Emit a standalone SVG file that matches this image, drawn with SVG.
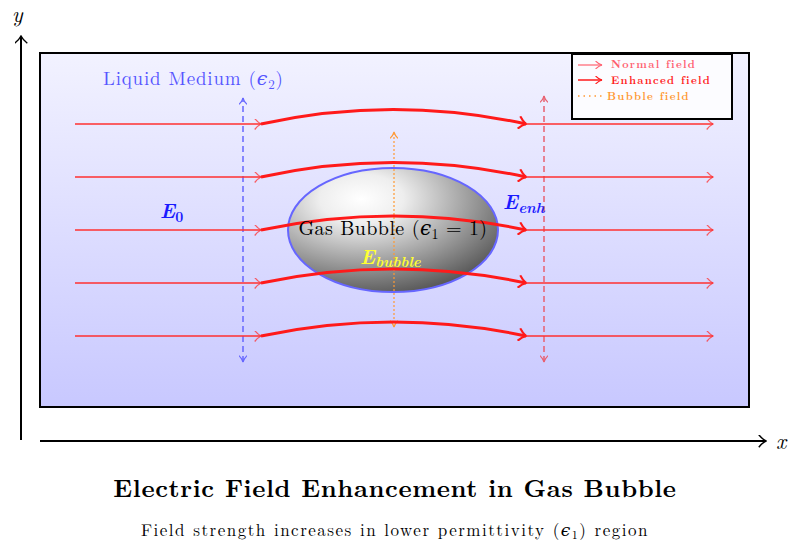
<svg xmlns="http://www.w3.org/2000/svg" width="799" height="553" viewBox="0 0 799 553">
<style>
.t{font-family:"Latin Modern Roman","DejaVu Serif","Liberation Serif",serif}
.f{stroke:#ff3030;stroke-opacity:.75;stroke-width:2;fill:none}
.e{stroke:#ff1a1a;stroke-width:3;fill:none}
</style>
<defs>
<linearGradient id="bg" x1="0" y1="0" x2="0" y2="1"><stop offset="0" stop-color="#f2f2ff"/><stop offset="1" stop-color="#c8c8ff"/></linearGradient>
<radialGradient id="bb" cx="0.35" cy="0.25" r="0.8"><stop offset="0" stop-color="#ffffff"/><stop offset="0.25" stop-color="#eeeeee"/><stop offset="1" stop-color="#555555"/></radialGradient>
<marker id="a" viewBox="0 0 10 10" refX="9" refY="5" markerWidth="8" markerHeight="8" orient="auto-start-reverse" markerUnits="userSpaceOnUse"><path d="M1,0 Q5,4 9,5 Q5,6 1,10" fill="none" stroke="context-stroke" stroke-width="1.4"/></marker>
<marker id="af" viewBox="0 0 10 14" refX="9" refY="7" markerWidth="8" markerHeight="11" orient="auto" markerUnits="userSpaceOnUse"><path d="M1,0 Q5,5 9,7 Q5,9 1,14" fill="none" stroke="#ff3030" stroke-opacity=".75" stroke-width="1.6"/></marker>
<marker id="ae" viewBox="0 0 10 14" refX="9" refY="7" markerWidth="9" markerHeight="13" orient="auto" markerUnits="userSpaceOnUse"><path d="M1,0 Q5,5 9,7 Q5,9 1,14" fill="none" stroke="#ff1a1a" stroke-width="2.4"/></marker>
<marker id="ax" viewBox="0 0 10 14" refX="9" refY="7" markerWidth="9" markerHeight="13" orient="auto" markerUnits="userSpaceOnUse"><path d="M1,0 Q5,5 9,7 Q5,9 1,14" fill="none" stroke="#000" stroke-width="1.6"/></marker>
</defs>
<rect width="799" height="553" fill="#fff"/>
<g id="axes" stroke="#000" stroke-width="2">
<line x1="21" y1="440" x2="21" y2="36" marker-end="url(#ax)"/>
<line x1="40" y1="441" x2="766" y2="441" marker-end="url(#ax)"/>
</g>
<text class="t" x="12" y="22" font-size="22" font-style="italic">y</text>
<text class="t" x="776" y="449" font-size="22" font-style="italic">x</text>
<g id="medium"><rect x="40" y="53" width="709" height="354" fill="url(#bg)" stroke="#000" stroke-width="2"/>
<text class="t" x="103" y="85" font-size="19" letter-spacing="0.8" fill="#5555ff">Liquid Medium (<tspan font-style="italic">ϵ</tspan><tspan font-size="13" dy="4">2</tspan><tspan dy="-4">)</tspan></text></g>
<g id="bubble"><ellipse cx="393" cy="230" rx="105" ry="62" fill="url(#bb)" stroke="#6666ff" stroke-width="2"/></g>
<g id="connectors">
<line x1="243" y1="362" x2="243" y2="98" stroke="#6666ff" stroke-width="1.5" stroke-dasharray="6,4" marker-start="url(#a)" marker-end="url(#a)"/>
<line x1="544" y1="362" x2="544" y2="96" stroke="#e86070" stroke-width="1.5" stroke-dasharray="6,4" marker-start="url(#a)" marker-end="url(#a)"/>
<line x1="394" y1="327" x2="394" y2="132" stroke="#ff9933" stroke-width="1.2" stroke-dasharray="2,2" marker-start="url(#a)" marker-end="url(#a)"/>
<g>
<path class="f" d="M75,124H261" marker-end="url(#af)"/><path class="e" d="M261,124Q393,95 526,124" marker-end="url(#ae)"/><path class="f" d="M526,124H713" marker-end="url(#af)"/>
<path class="f" d="M75,177H261" marker-end="url(#af)"/><path class="e" d="M261,177Q393,148 526,177" marker-end="url(#ae)"/><path class="f" d="M526,177H713" marker-end="url(#af)"/>
<path class="f" d="M75,230H261" marker-end="url(#af)"/><path class="e" d="M261,230Q393,202 526,230" marker-end="url(#ae)"/><path class="f" d="M526,230H713" marker-end="url(#af)"/>
<path class="f" d="M75,283H261" marker-end="url(#af)"/><path class="e" d="M261,283Q393,255 526,283" marker-end="url(#ae)"/><path class="f" d="M526,283H713" marker-end="url(#af)"/>
<path class="f" d="M75,336H261" marker-end="url(#af)"/><path class="e" d="M261,336Q393,308 526,336" marker-end="url(#ae)"/><path class="f" d="M526,336H713" marker-end="url(#af)"/>
</g></g>
<text class="t" x="393" y="235" font-size="20" letter-spacing="0.4" text-anchor="middle">Gas Bubble (<tspan font-style="italic">ϵ</tspan><tspan font-size="14" dy="4">1</tspan><tspan dy="-4"> = 1)</tspan></text>
<text class="t" x="360" y="264" font-size="20" font-weight="bold" font-style="italic" fill="#ffff33">E<tspan font-size="15" dy="3">bubble</tspan></text>
<text class="t" x="160" y="218" font-size="20" font-weight="bold" font-style="italic" fill="#1a1aff">E<tspan font-size="14" dy="4" font-style="normal">0</tspan></text>
<text class="t" x="503" y="209" font-size="20" font-weight="bold" font-style="italic" fill="#1a1aff">E<tspan font-size="15" dy="4">enh</tspan></text>
<g id="legend"><rect x="572" y="54" width="160" height="65" fill="#fcfcff" stroke="#000" stroke-width="2"/>
<line x1="578" y1="65" x2="602" y2="65" stroke="#ff6070" stroke-width="1.2" marker-end="url(#a)"/>
<line x1="578" y1="80" x2="602" y2="80" stroke="#ff1a1a" stroke-width="1.5" marker-end="url(#a)"/>
<line x1="578" y1="96" x2="602" y2="96" stroke="#ff9933" stroke-width="1.5" stroke-dasharray="1.5,4"/>
<text class="t" x="611" y="68" font-size="11" letter-spacing="1.3" fill="#ff6070" font-weight="bold">Normal field</text>
<text class="t" x="611" y="84" font-size="11" letter-spacing="1.3" fill="#ff1a1a" font-weight="bold">Enhanced field</text>
<text class="t" x="607" y="100" font-size="11" letter-spacing="1.3" fill="#ff9933" font-weight="bold">Bubble field</text></g>
<text class="t" x="395" y="497" font-size="25" letter-spacing="0.6" font-weight="bold" text-anchor="middle">Electric Field Enhancement in Gas Bubble</text>
<text class="t" x="395" y="536" font-size="17" letter-spacing="1.5" text-anchor="middle">Field strength increases in lower permittivity (<tspan font-style="italic">ϵ</tspan><tspan font-size="12" dy="3">1</tspan><tspan dy="-3">) region</tspan></text>
</svg>
